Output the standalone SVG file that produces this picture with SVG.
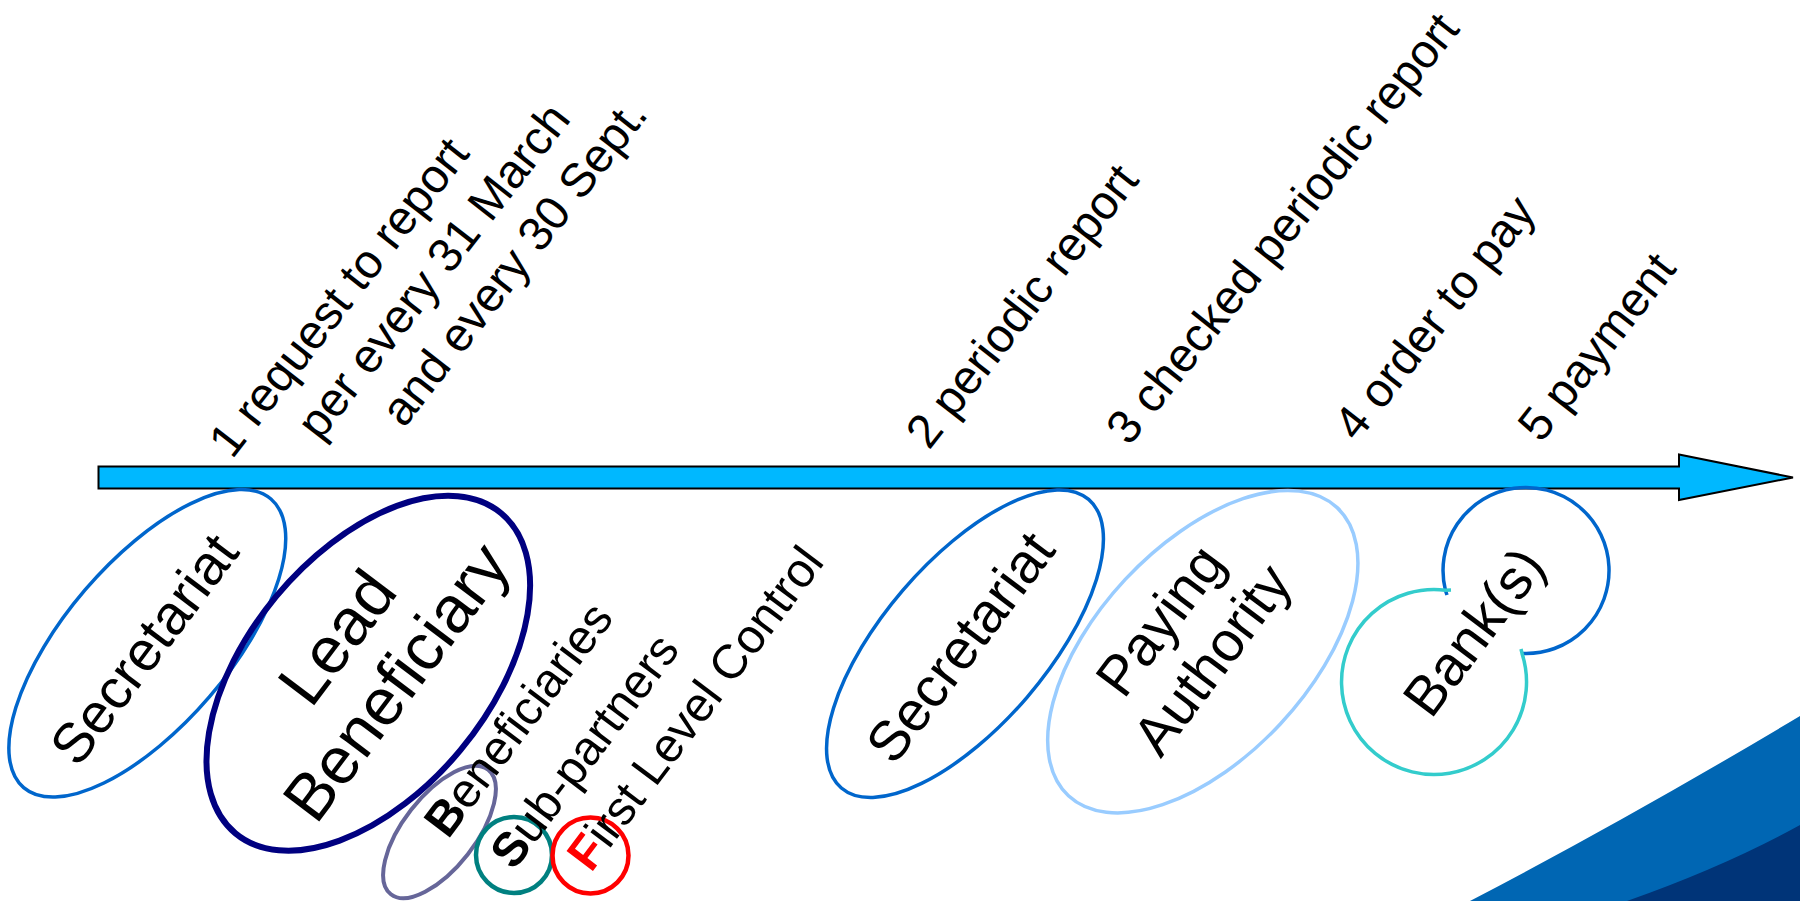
<svg xmlns="http://www.w3.org/2000/svg" width="1800" height="901" viewBox="0 0 1800 901">
<style>
text{font-family:"Liberation Sans",Arial,Helvetica,sans-serif;fill:#000}
.lbl{font-size:47.5px}
.nd{font-size:56px;text-anchor:middle}
.big{font-size:66px;text-anchor:middle}
.sub{font-size:48px}
.shape{fill:none}
</style>
<rect width="1800" height="901" fill="#fff"/>
<g id="swoosh">
<path d="M1470 901 Q1632 816.5 1800 716 L1800 901 Z" fill="#0066B3"/>
<path d="M1627 901 Q1726 866 1800 825 L1800 901 Z" fill="#003478"/>
</g>
<g id="connectors">
<polygon points="98.5,466.5 1679,466.5 1679,454.5 1793,477.5 1679,500 1679,488.5 98.5,488.5" fill="#00B8FF" stroke="#000" stroke-width="2"/>
</g>
<g id="labels">
<text class="lbl" transform="translate(232,460) rotate(-52)">1 request to report</text>
<text class="lbl" transform="translate(320,442) rotate(-52)">per every 31 March</text>
<text class="lbl" transform="translate(404,429) rotate(-52)">and every 30 Sept.</text>
<text class="lbl" transform="translate(929,451) rotate(-52)">2 periodic report</text>
<text class="lbl" transform="translate(1129,447) rotate(-51.5)">3 checked periodic report</text>
<text class="lbl" transform="translate(1357,443) rotate(-52)">4 order to pay</text>
<text class="lbl" transform="translate(1541,444) rotate(-52)">5 payment</text>
</g>
<g id="secretariat1">
<ellipse class="shape" cx="147.3" cy="643.3" rx="190" ry="82" transform="rotate(-49.4 147.3 643.3)" stroke="#0066CC" stroke-width="3.5"/>
<text class="nd" transform="translate(143.5,648.6) rotate(-53)" y="20">Secretariat</text>
</g>
<g id="lead-beneficiary">
<ellipse class="shape" cx="368.3" cy="673.3" rx="208" ry="120" transform="rotate(-50.3 368.3 673.3)" stroke="#000080" stroke-width="6"/>
<g transform="translate(367.9,660.5) rotate(-53)">
<text class="big" y="-16">Lead</text>
<text class="big" y="58">Beneficiary</text>
</g>
</g>
<g id="beneficiaries">
<ellipse class="shape" cx="439.5" cy="832" rx="79" ry="36" transform="rotate(-52 439.5 832)" stroke="#666699" stroke-width="4"/>
<text class="sub" transform="translate(448,840) rotate(-53)"><tspan font-weight="bold">B</tspan>eneficiaries</text>
</g>
<g id="sub-partners">
<circle class="shape" cx="514" cy="855" r="38" stroke="#008080" stroke-width="4.5"/>
<text class="sub" transform="translate(514,871.5) rotate(-53)"><tspan font-weight="bold">S</tspan>ub-partners</text>
</g>
<g id="first-level-control">
<circle class="shape" cx="590.5" cy="855.5" r="38" stroke="#FF0000" stroke-width="4.5"/>
<text class="sub" transform="translate(591,873.5) rotate(-53)"><tspan font-weight="bold" fill="#FF0000">F</tspan>irst Level Control</text>
</g>
<g id="secretariat2">
<ellipse class="shape" cx="965" cy="643.7" rx="190" ry="82" transform="rotate(-49.4 965 643.7)" stroke="#0066CC" stroke-width="3.5"/>
<text class="nd" transform="translate(959.6,646.7) rotate(-53)" y="20">Secretariat</text>
</g>
<g id="paying-authority">
<ellipse class="shape" cx="1202.8" cy="651.7" rx="197" ry="106" transform="rotate(-47 1202.8 651.7)" stroke="#99CCFF" stroke-width="3.5"/>
<g transform="translate(1190,643) rotate(-53)">
<text class="nd" y="-18.3">Paying</text>
<text class="nd" y="46.7">Authority</text>
</g>
</g>
<g id="banks">
<path class="shape" d="M1447 595 L1445.4 590.2 A83 83 0 1 1 1522 653.4" stroke="#0066CC" stroke-width="3.5"/>
<path class="shape" d="M1451 590 L1445.4 590.2 A92.5 92.5 0 1 0 1522 653.4 L1521 649" stroke="#33CCCC" stroke-width="3.5"/>
<text class="nd" transform="translate(1477.5,634.5) rotate(-53)" y="14.6">Bank(s)</text>
</g>
</svg>
